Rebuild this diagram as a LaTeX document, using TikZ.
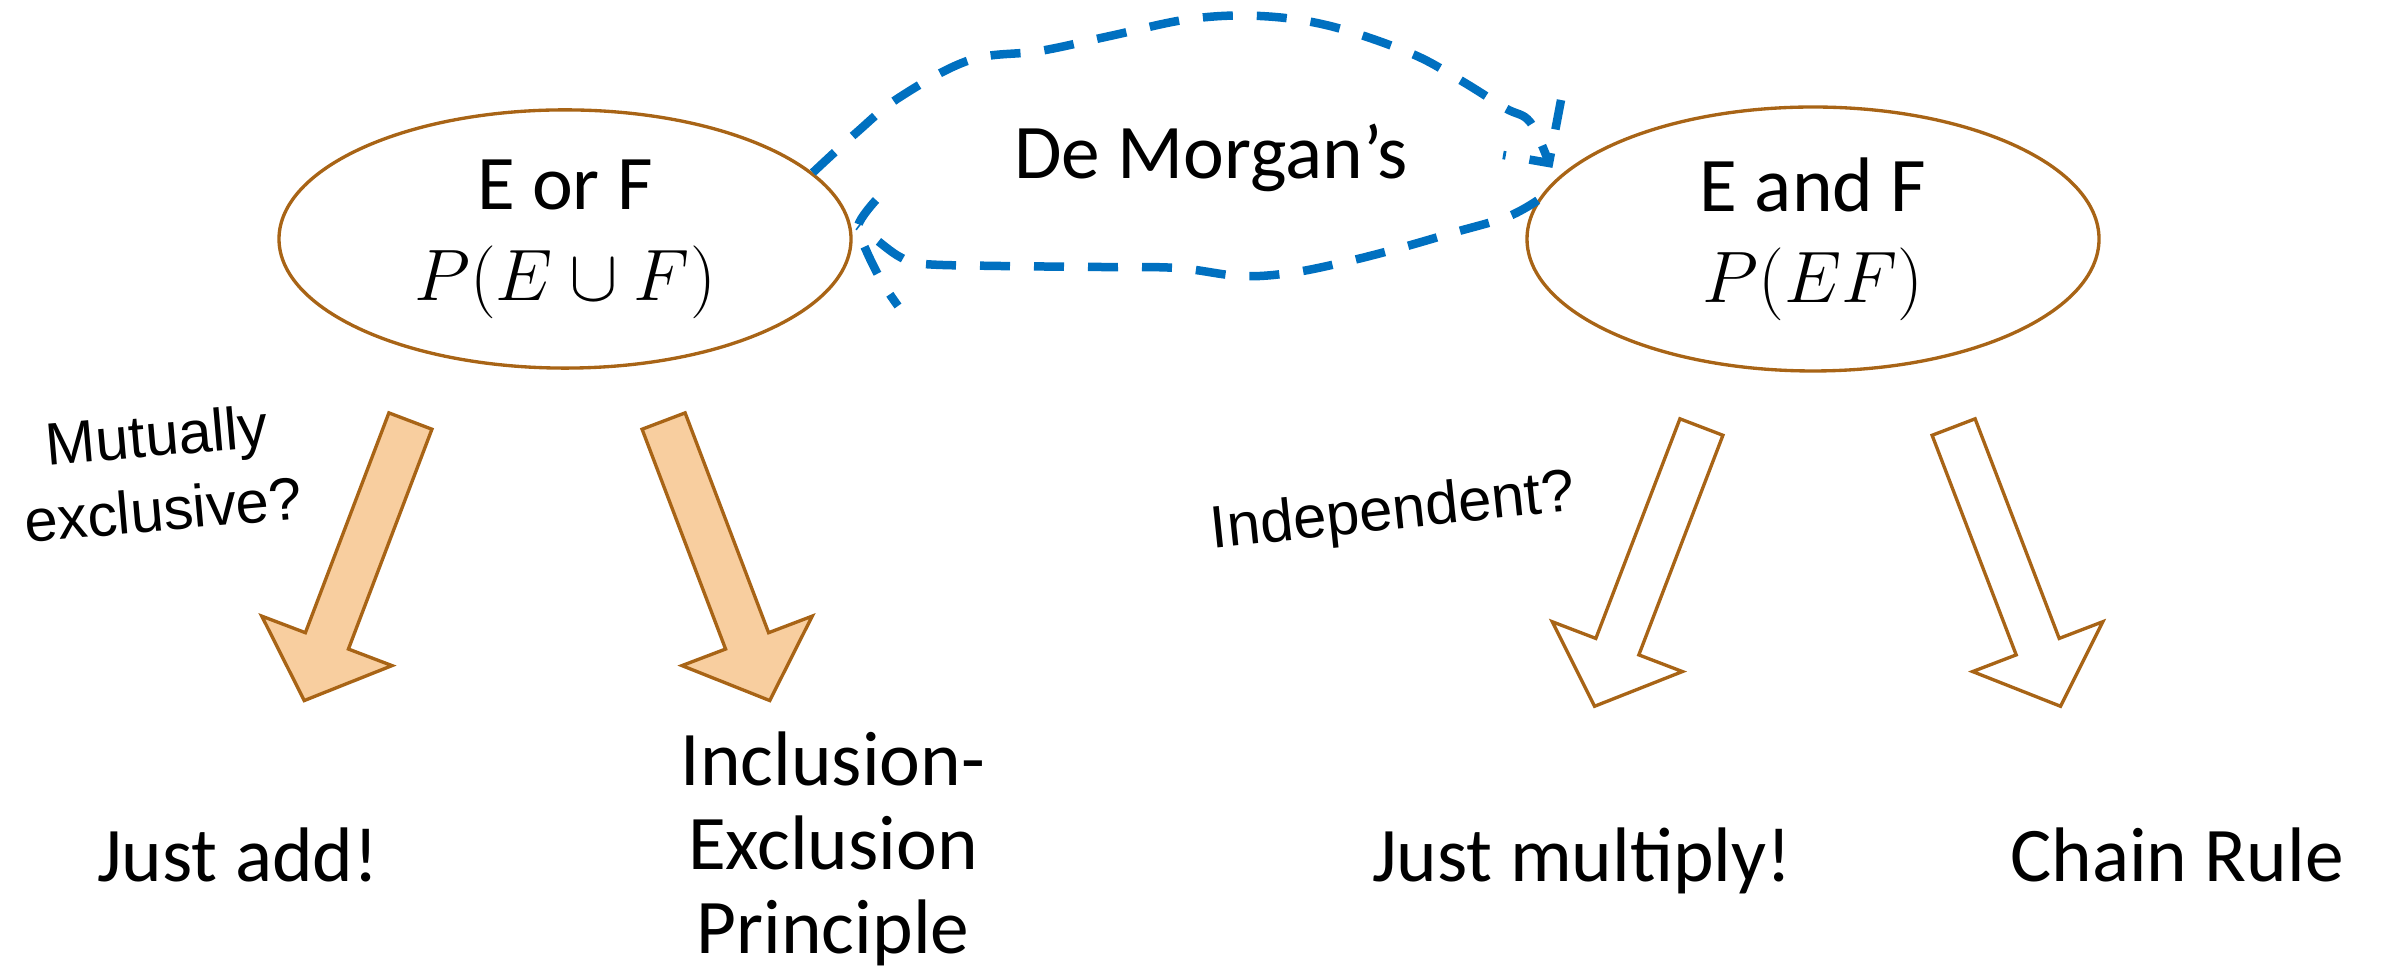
\documentclass[tikz,border=0pt]{standalone}
\usepackage{fontspec}
\setmainfont{Carlito}
\newfontfamily\qfont{Liberation Sans}
\usetikzlibrary{shapes.geometric,shapes.arrows}
\definecolor{rulebrown}{RGB}{168,100,22}
\definecolor{rulefill}{RGB}{248,206,159}
\definecolor{morganblue}{RGB}{0,112,192}

\begin{document}
\begin{tikzpicture}[
    event/.style={ellipse, draw=rulebrown, line width=0.95pt, minimum width=5.72cm, minimum height=2.58cm, align=center, font=\fontsize{22}{26}\selectfont},
    rule/.style={single arrow, draw=rulebrown, line width=0.95pt, minimum height=2.99cm, inner xsep=0pt, inner ysep=0.2135cm, single arrow head extend=0.4665cm, single arrow tip angle=95, anchor=tail},
    question/.style={align=center, font=\qfont\fontsize{17}{21.3}\selectfont},
    result/.style={align=center, font=\fontsize{22}{24}\selectfont},
    morgan/.style={draw=morganblue, line width=0.085cm, dash pattern=on 0.3cm off 0.24cm}
  ]
    \useasboundingbox (0,0) rectangle (23.85,9.76);

    \node (eorf) [event] at (5.65,7.37) {E or F\\$P(E\cup F)$};
    \node (eandf) [event] at (18.13,7.37) {E and F\\$P(EF)$};
    \node (morgan) [font=\fontsize{22}{26}\selectfont] at (12.11,8.18) {De Morgan’s};

    \node (addarr) [rule, fill=rulefill, rotate=249.2] at (4.11,5.565) {};
    \node (inclarr) [rule, fill=rulefill, rotate=290.8] at (6.63,5.565) {};
    \node (multarr) [rule, rotate=249.05] at (17.02,5.505) {};
    \node (chainarr) [rule, rotate=290.95] at (19.53,5.505) {};

    \node (mutex) [question, rotate=5] at (1.60,5.04) {Mutually\\exclusive?};
    \node (indep) [question, rotate=6] at (13.93,4.62) {Independent?};

    \node (justadd) [result, anchor=base] at (2.38,0.94) {Just add!};
    \node (inclexcl) [result] at (8.33,1.27) {Inclusion-\\Exclusion\\Principle};
    \node (justmult) [result, anchor=base] at (15.82,0.94) {Just multiply!};
    \node (chain) [result, anchor=base] at (21.77,0.94) {Chain Rule};

    % hand drawn loop between the two events
    \coordinate (tipand) at (15.49,8.13);
    \coordinate (tipor) at (8.58,7.50);
    \draw[morgan] plot[smooth, tension=0.6] coordinates {(eorf.15) (8.56,8.43) (9.00,8.79) (9.70,9.16) (10.40,9.25) (11.10,9.40) (11.90,9.57) (12.60,9.60) (13.30,9.50) (14.10,9.23) (14.60,8.96) (15.05,8.68) (15.30,8.54) (tipand)};
    \draw[morgan] (15.61,8.76) -- (tipand) -- (15.03,8.21);
    \draw[morgan] plot[smooth, tension=0.6] coordinates {(eandf.172) (15.07,7.59) (14.52,7.43) (14.00,7.28) (13.45,7.14) (12.90,7.03) (12.40,7.00) (11.77,7.08) (11.00,7.09) (10.00,7.10) (9.24,7.12) (9.00,7.19) (8.74,7.38) (tipor)};
    \draw[morgan] plot[smooth, tension=0.6] coordinates {(8.76,7.76) (tipor) (8.66,7.26) (8.82,6.94) (8.98,6.70)};
\end{tikzpicture}
\end{document}
